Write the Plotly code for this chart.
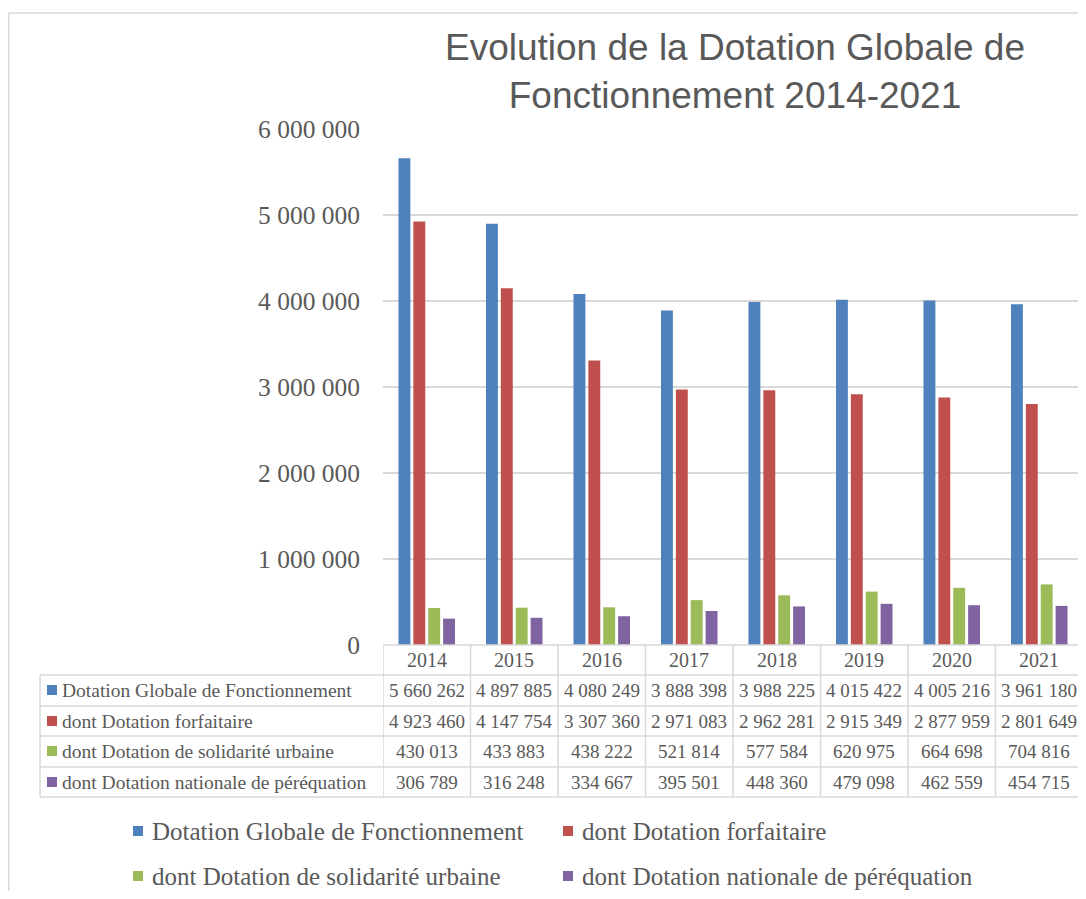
import plotly.graph_objects as go

years = ["2014", "2015", "2016", "2017", "2018", "2019", "2020", "2021"]
series_names = [
    "Dotation Globale de Fonctionnement",
    "dont Dotation forfaitaire",
    "dont Dotation de solidarité urbaine",
    "dont Dotation nationale de péréquation",
]
dgf = [5660262, 4897885, 4080249, 3888398, 3988225, 4015422, 4005216, 3961180]
forfaitaire = [4923460, 4147754, 3307360, 2971083, 2962281, 2915349, 2877959, 2801649]
dsu = [430013, 433883, 438222, 521814, 577584, 620975, 664698, 704816]
dnp = [306789, 316248, 334667, 395501, 448360, 479098, 462559, 454715]
colors = ["#4F81BD", "#C0504D", "#9BBB59", "#8064A2"]
tick_vals = [0, 1000000, 2000000, 3000000, 4000000, 5000000, 6000000]
tick_text = ["0", "1 000 000", "2 000 000", "3 000 000", "4 000 000", "5 000 000", "6 000 000"]

series = [dgf, forfaitaire, dsu, dnp]

OFF = 8  # page body margin
W, H = 1086 - OFF, 899 - 2 * OFF
L, R, T = 383 - OFF, 0, 129 - OFF
B = H - (645 - OFF)
PW, PH = W - L - R, H - T - B
COLW = 87.5  # pixel width of one category column
TXT = "#595959"
GRID = "#D9D9D9"
SERIF = "Liberation Serif, Times New Roman, serif"


def px(x):
    # x given in screenshot pixels
    return (x - OFF - L) / PW


def py(y):
    # y given in screenshot pixels
    return (H - B - (y - OFF)) / PH


def fmt(v):
    return f"{v:,}".replace(",", " ")


fig = go.Figure()
for name, vals, c in zip(series_names, series, colors):
    fig.add_trace(go.Bar(x=list(range(len(years))), y=vals, name=name,
                         marker=dict(color=c, line=dict(width=0)), showlegend=False))

shapes = []
annotations = []

# outer chart border (top and left)
shapes.append(dict(type="line", xref="paper", yref="paper", x0=px(8.7), x1=px(1100), y0=py(13), y1=py(13),
                   line=dict(color=GRID, width=1.5)))
shapes.append(dict(type="line", xref="paper", yref="paper", x0=px(8.7), x1=px(8.7), y0=py(13), y1=py(910),
                   line=dict(color=GRID, width=1.5)))

# data table
row_lines = [645, 675, 706, 736, 767, 797]
row_centers = [660, 690, 721, 751, 782]
for i, yl in enumerate(row_lines):
    x0 = 383 if i == 0 else 40
    shapes.append(dict(type="line", xref="paper", yref="paper", x0=px(x0), x1=px(1100), y0=py(yl), y1=py(yl),
                       line=dict(color=GRID, width=1.5)))
shapes.append(dict(type="line", xref="paper", yref="paper", x0=px(40), x1=px(40), y0=py(675), y1=py(797),
                   line=dict(color=GRID, width=1.5)))
for i in range(len(years) + 1):
    shapes.append(dict(type="line", xref="x", yref="paper", x0=i - 0.5, x1=i - 0.5, y0=py(645), y1=py(797),
                       line=dict(color=GRID, width=1.5)))

for i, yr in enumerate(years):
    annotations.append(dict(x=i, y=py(row_centers[0]), xref="x", yref="paper", text=yr, showarrow=False,
                            font=dict(family=SERIF, size=20, color=TXT), xanchor="center", yanchor="middle"))
for r, (name, vals, c) in enumerate(zip(series_names, series, colors)):
    yc = row_centers[r + 1]
    shapes.append(dict(type="rect", xref="paper", yref="paper", x0=px(47), x1=px(57), y0=py(yc - 5), y1=py(yc + 5),
                       fillcolor=c, line=dict(width=0)))
    annotations.append(dict(x=px(60), y=py(yc), xref="paper", yref="paper", text=name, showarrow=False,
                            font=dict(family=SERIF, size=19.5, color=TXT), xanchor="left", yanchor="middle"))
    for i, v in enumerate(vals):
        annotations.append(dict(x=i, y=py(yc), xref="x", yref="paper", text=fmt(v), showarrow=False,
                                font=dict(family=SERIF, size=19, color=TXT), xanchor="center", yanchor="middle"))

# legend (drawn below the table)
leg_pos = [(133, 831), (563, 831), (133, 876), (563, 876)]
for (lx, ly), name, c in zip(leg_pos, series_names, colors):
    shapes.append(dict(type="rect", xref="paper", yref="paper", x0=px(lx), x1=px(lx + 10), y0=py(ly - 5),
                       y1=py(ly + 5), fillcolor=c, line=dict(width=0)))
    annotations.append(dict(x=px(lx + 17), y=py(ly), xref="paper", yref="paper", text=name, showarrow=False,
                            font=dict(family=SERIF, size=25, color=TXT), xanchor="left", yanchor="middle"))

fig.update_layout(
    width=W, height=H,
    margin=dict(l=L, r=R, t=T, b=B, pad=0),
    paper_bgcolor="white", plot_bgcolor="white",
    title=dict(text="Evolution de la Dotation Globale de<br>Fonctionnement 2014-2021",
               x=(735 - OFF) / W, xanchor="center", xref="container",
               y=1 - 52 / H, yanchor="top",
               font=dict(family="Liberation Sans, Arial, sans-serif", size=37, color=TXT)),
    barmode="group", bargap=0.32, bargroupgap=0.2,
    xaxis=dict(range=[-0.5, -0.5 + PW / COLW], showticklabels=False, showgrid=False, zeroline=False,
               showline=False, ticks=""),
    yaxis=dict(range=[0, 6000000], tickvals=tick_vals, ticktext=tick_text, showgrid=True, gridcolor=GRID,
               gridwidth=1.5, zeroline=False, showline=False, ticks="", ticklabelstandoff=22,
               tickfont=dict(family=SERIF, size=25.5, color=TXT)),
    shapes=shapes, annotations=annotations,
)

fig.write_html("out.html")
